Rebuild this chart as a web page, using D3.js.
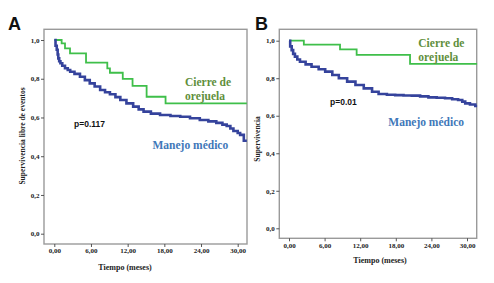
<!DOCTYPE html>
<html><head><meta charset="utf-8">
<script src="https://cdn.jsdelivr.net/npm/d3@7"></script>
<style>
body{margin:0;background:#fff;}
svg{display:block;}
</style></head>
<body><svg id="c" width="494" height="283"></svg>
<script>
// ---- data ----
const yTickValues = [0, 0.2, 0.4, 0.6, 0.8, 1.0];
const yTickLabels = ["0,0", "0,2", "0,4", "0,6", "0,8", "1,0"];
const xTickValues = [0, 6, 12, 18, 24, 30];
const xTickLabels = ["0,00", "6,00", "12,00", "18,00", "24,00", "30,00"];

// Panel A (months, survival)
const greenA = [[0,1],[1.2,0.983],[1.75,0.957],[2.57,0.931],[5.19,0.883],[8.67,0.854],[9.1,0.831],[11.2,0.799],[12.8,0.763],[15.1,0.707],[18.2,0.673],[31.5,0.673]];
const blueA = [[0,1.0],[0.2,0.97],[0.4,0.95],[0.55,0.925],[0.65,0.905],[0.8,0.89],[1.0,0.88],[1.3,0.867],[1.75,0.854],[2.2,0.845],[2.6,0.836],[3.3,0.825],[4.2,0.81],[5.0,0.793],[5.8,0.776],[6.6,0.76],[7.5,0.742],[8.3,0.73],[9.1,0.72],[10.0,0.705],[10.8,0.69],[11.8,0.673],[12.9,0.656],[13.8,0.642],[14.6,0.63],[15.8,0.62],[17.3,0.613],[19.0,0.608],[20.6,0.604],[22.2,0.596],[23.8,0.587],[25.2,0.58],[26.5,0.572],[27.5,0.563],[28.2,0.556],[28.8,0.543],[29.3,0.53],[30.0,0.52],[30.4,0.51],[31.0,0.48],[31.5,0.48]];
// Panel B
const greenB = [[0,1],[2.5,0.979],[8.6,0.954],[11.4,0.924],[20.4,0.876],[31.7,0.876]];
const blueB = [[0,1],[0.2,0.97],[0.45,0.95],[0.7,0.93],[1.0,0.915],[1.4,0.9],[1.85,0.888],[2.8,0.874],[3.8,0.861],[5.0,0.848],[6.1,0.835],[7.3,0.817],[8.4,0.80],[9.8,0.782],[11.2,0.764],[12.6,0.746],[14.0,0.728],[15.1,0.716],[16.5,0.712],[17.9,0.71],[19.3,0.708],[20.7,0.707],[22.1,0.703],[23.5,0.698],[24.9,0.696],[26.3,0.693],[27.5,0.688],[28.5,0.684],[29.2,0.675],[29.7,0.666],[30.5,0.66],[31.4,0.652],[31.7,0.652]];

const panelLetters = ["A", "B"];
const pTexts = ["p=0.117", "p=0.01"];
const greenLabel = ["Cierre de", "orejuela"];
const blueLabel = "Manejo médico";
const xTitle = "Tiempo (meses)";
const yTitles = ["Supervivencia libre de eventos", "Supervivencia"];

// ---- layout ----
const panels = [
  {frame:{l:44,t:29.3,r:247,b:244}, x:[54.3,237.7], y:[233.7,40], green:greenA, blue:blueA,
   letter:{x:8,y:30}, p:{x:74,y:127}, gl:{x:185,y1:85.5,y2:99.5}, bl:{x:152.5,y:148.5},
   xt:{x:125,y:270}, yt:{x:25,y:136}},
  {frame:{l:279.3,t:29.3,r:476.7,b:238.3}, x:[289,467], y:[228.3,40.7], green:greenB, blue:blueB,
   letter:{x:255,y:30}, p:{x:330,y:105.3}, gl:{x:418.3,y1:47,y2:61}, bl:{x:388.3,y:126},
   xt:{x:380,y:263}, yt:{x:260,y:139}}
];

const svg = d3.select("#c");
const serif = "'Liberation Serif','Times New Roman',serif";
const sans = "'Liberation Sans',Arial,sans-serif";
const GREEN = "#3fbf4a", BLUE = "#35439c", GTXT = "#5f8f3c", BTXT = "#3f78b9", FRAME = "#9a9a9a";

panels.forEach((P, i) => {
  const g = svg.append("g");
  const xs = d3.scaleLinear().domain([0, 30]).range(P.x);
  const ys = d3.scaleLinear().domain([0, 1]).range(P.y);
  const f = P.frame;
  g.append("rect").attr("x", f.l).attr("y", f.t).attr("width", f.r - f.l).attr("height", f.b - f.t)
    .attr("fill", "#fff").attr("stroke", FRAME).attr("stroke-width", 1.4);

  const yAxis = d3.axisLeft(ys).tickValues(yTickValues).tickSize(3).tickPadding(1.5)
    .tickFormat((d, k) => yTickLabels[k]);
  const ya = g.append("g").attr("transform", `translate(${f.l},0)`).call(yAxis);
  const xAxis = d3.axisBottom(xs).tickValues(xTickValues).tickSize(3).tickPadding(1.5)
    .tickFormat((d, k) => xTickLabels[k]);
  const xa = g.append("g").attr("transform", `translate(0,${f.b})`).call(xAxis);
  [ya, xa].forEach(a => {
    a.select(".domain").remove();
    a.selectAll(".tick line").attr("stroke", "#444").attr("stroke-width", 0.9);
    a.selectAll("text").attr("font-family", serif).attr("font-weight", "bold")
      .attr("font-size", 7).attr("fill", "#222");
  });

  const line = d3.line().x(d => xs(d[0])).y(d => ys(d[1])).curve(d3.curveStepAfter);
  g.append("path").datum(P.green).attr("d", line).attr("fill", "none")
    .attr("stroke", GREEN).attr("stroke-width", 1.8);
  g.append("path").datum(P.blue).attr("d", line).attr("fill", "none")
    .attr("stroke", BLUE).attr("stroke-width", 2.6);

  g.append("text").attr("x", P.letter.x).attr("y", P.letter.y).text(panelLetters[i])
    .attr("font-family", sans).attr("font-weight", "bold").attr("font-size", 18).attr("fill", "#111");
  g.append("text").attr("x", P.p.x).attr("y", P.p.y).text(pTexts[i])
    .attr("font-family", sans).attr("font-weight", "bold").attr("font-size", 8.5).attr("fill", "#111");
  g.append("text").attr("x", P.gl.x).attr("y", P.gl.y1).text(greenLabel[0])
    .attr("font-family", serif).attr("font-weight", "bold").attr("font-size", 11.5).attr("fill", GTXT);
  g.append("text").attr("x", P.gl.x).attr("y", P.gl.y2).text(greenLabel[1])
    .attr("font-family", serif).attr("font-weight", "bold").attr("font-size", 11.5).attr("fill", GTXT);
  g.append("text").attr("x", P.bl.x).attr("y", P.bl.y).text(blueLabel)
    .attr("font-family", serif).attr("font-weight", "bold").attr("font-size", 11.5).attr("fill", BTXT);
  g.append("text").attr("x", P.xt.x).attr("y", P.xt.y).text(xTitle).attr("text-anchor", "middle")
    .attr("font-family", serif).attr("font-weight", "bold").attr("font-size", 8).attr("fill", "#222");
  g.append("text").attr("transform", `translate(${P.yt.x},${P.yt.y}) rotate(-90)`).text(yTitles[i])
    .attr("text-anchor", "middle")
    .attr("font-family", serif).attr("font-weight", "bold").attr("font-size", 7.5).attr("fill", "#222");
});
</script></body></html>
